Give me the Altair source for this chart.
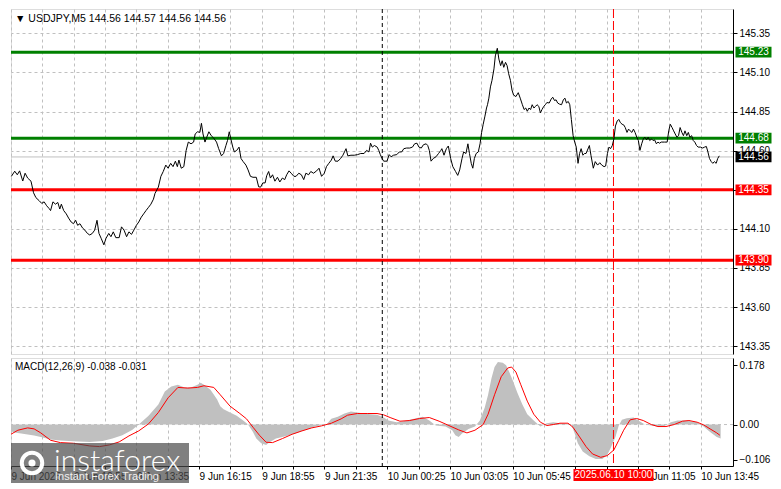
import altair as alt
import pandas as pd

# ---------------- data ----------------
# USDJPY M5 close line: bar index (5-minute bars from the left edge) and price
seg1_bar = [0.2, 1.9, 3.2, 4.4, 6, 7.2, 8.5, 10.2, 11.5, 12.7,
            14.4, 15.7, 16.9, 18.2, 19.4, 20.2, 21.4, 22.7, 23.9, 24.9,
            25.7, 26.9, 28.2, 29.4, 30.7, 31.9, 33, 34, 35.2, 36.5,
            37.7, 39, 40.2, 41.5, 42.7, 43.9, 44.9, 46, 47.4, 48.5,
            49.9, 51, 52.2, 53.5, 55.2, 56.4, 57.7, 59, 60.2, 61.5,
            62.7, 64, 65.2, 66.5, 67.7, 68.9, 70.2, 71.4, 72.7, 73.5]
seg1_price = [144.436, 144.469, 144.446, 144.471, 144.406, 144.456, 144.425, 144.405, 144.331, 144.300,
              144.280, 144.263, 144.273, 144.248, 144.231, 144.217, 144.273, 144.258, 144.269, 144.227,
              144.258, 144.217, 144.196, 144.169, 144.144, 144.133, 144.155, 144.123, 144.133, 144.106,
              144.092, 144.071, 144.061, 144.071, 144.092, 144.155, 144.071, 144.040, 143.998, 144.040,
              144.071, 144.050, 144.081, 144.044, 144.044, 144.113, 144.092, 144.050, 144.081, 144.065,
              144.092, 144.123, 144.144, 144.175, 144.196, 144.217, 144.238, 144.258, 144.290, 144.327]
seg2_bar = [75.2, 76.5, 77.7, 79, 80.2, 81.5, 82.7, 83.9, 84.9, 85.7,
            86.9, 88.2, 89.4, 90.5, 91.9, 93.2, 94, 95.2, 96.4, 97.2,
            98, 99, 99.9, 101, 102.2, 103.5, 104.9, 106, 107.4, 108.5,
            109.7, 110.5, 111.4, 112.2, 113.2, 114, 115.2, 116.4, 117.4, 118.5,
            119.9, 121, 122.2, 123.5, 125.2, 126.4, 127.4, 128.5, 129.7, 130.5,
            131.5, 132.4, 133.5, 134.7, 136, 137.2, 138.5, 139.7, 140.7, 141.9,
            143, 144.4, 145.5, 146.9, 148.2]
seg2_price = [144.367, 144.436, 144.467, 144.508, 144.488, 144.519, 144.498, 144.533, 144.498, 144.540,
              144.488, 144.498, 144.602, 144.655, 144.644, 144.655, 144.707, 144.721, 144.717, 144.775,
              144.707, 144.655, 144.686, 144.721, 144.696, 144.680, 144.655, 144.613, 144.567, 144.582,
              144.633, 144.665, 144.721, 144.675, 144.623, 144.592, 144.602, 144.623, 144.550, 144.530,
              144.508, 144.477, 144.436, 144.430, 144.430, 144.369, 144.367, 144.394, 144.394, 144.440,
              144.467, 144.425, 144.446, 144.405, 144.430, 144.400, 144.425, 144.415, 144.446, 144.471,
              144.456, 144.436, 144.436, 144.456, 144.446]
seg3_bar = [149.4, 150.5, 151.9, 153, 154.4, 156, 157.2, 158.5, 159.9, 161,
            162.2, 163.5, 164.4, 165.5, 166.9, 168.2, 169.4, 170.2, 171, 171.9,
            173.5, 175.2, 176.9, 178.5, 180.2, 181.5, 182.7, 183.5, 184.4, 185.5,
            186.9, 187.7, 188.5, 189.4, 190.2, 191.9, 193, 194, 195.2, 196.9,
            198.2, 199.4, 200.5, 201.9, 203.5, 204.9, 206, 207.2, 208.2, 209.4,
            210.5, 211.9, 212.7, 213.5, 214.4, 215.5, 216.9, 218.2, 219.4]
seg3_price = [144.415, 144.456, 144.446, 144.467, 144.456, 144.471, 144.488, 144.436, 144.456, 144.498,
              144.519, 144.540, 144.567, 144.533, 144.533, 144.550, 144.571, 144.592, 144.613, 144.567,
              144.571, 144.571, 144.575, 144.582, 144.582, 144.602, 144.592, 144.648, 144.623, 144.633,
              144.623, 144.602, 144.575, 144.550, 144.533, 144.533, 144.575, 144.561, 144.571, 144.575,
              144.592, 144.592, 144.613, 144.617, 144.617, 144.623, 144.644, 144.648, 144.623, 144.617,
              144.638, 144.644, 144.633, 144.602, 144.533, 144.550, 144.561, 144.582, 144.602]
seg4_bar = [219.9, 221, 222.2, 223.2, 224.4, 225.5, 226.9, 228, 229, 230.2,
            231, 232.2, 233.2, 234, 234.9, 235.7, 236.5, 237.4, 238.5, 239.4,
            240.2, 241, 241.9, 242.7, 243.2, 243.9, 244.7, 245.5, 246.5, 247.2,
            248.2, 249, 249.9, 250.7, 251.5, 252.4, 253.2, 254, 254.9, 255.7,
            256.5, 257.7, 258.9, 259.9, 261, 261.9, 262.7, 263.5, 264.4, 265.2,
            266, 266.9, 267.7, 268.5, 269.4, 270.2, 271, 271.9, 272.7, 273.5,
            274.7, 275.7, 276.5, 277.4, 278.2, 279, 279.9, 281, 281.9, 282.7,
            283.5, 284.4, 285.2, 286, 286.9, 287.7, 288.5, 289.4, 290.2, 291,
            291.9, 292.7]
seg4_price = [144.613, 144.571, 144.613, 144.630, 144.550, 144.498, 144.467, 144.442, 144.477, 144.550,
              144.592, 144.582, 144.644, 144.582, 144.519, 144.488, 144.550, 144.582, 144.592, 144.644,
              144.717, 144.769, 144.821, 144.873, 144.894, 144.936, 145.008, 145.050, 145.123, 145.206,
              145.255, 145.186, 145.144, 145.175, 145.133, 145.165, 145.144, 145.092, 145.050, 144.988,
              144.956, 144.946, 144.971, 144.936, 144.894, 144.863, 144.873, 144.852, 144.873, 144.863,
              144.894, 144.873, 144.883, 144.894, 144.883, 144.842, 144.863, 144.883, 144.894, 144.908,
              144.905, 144.930, 144.942, 144.921, 144.925, 144.905, 144.898, 144.894, 144.925, 144.936,
              144.905, 144.915, 144.894, 144.800, 144.696, 144.655, 144.623, 144.519, 144.582, 144.613,
              144.571, 144.582]
seg5_bar = [293.5, 295.2, 296, 297.2, 298.2, 299.4, 300.5, 301.5, 302.7, 303.5,
            304.4, 305.2, 306, 306.9, 307.7, 308.5, 309.4, 310.2, 311, 311.9,
            312.7, 313.5, 314.4, 315.2, 316, 316.9, 317.7, 318.5, 319.4, 320.2,
            321, 321.9, 322.7, 323.5, 324.4, 325.2, 326, 326.9, 327.7, 328.5,
            329.4, 330.2, 331, 331.9, 333.5, 334.9, 335.7, 336.5, 337.4, 338.2,
            339, 339.9, 340.7, 341.5, 342.4, 343.2, 344, 344.9, 345.7, 346.5,
            347.4, 348.2, 349, 349.9, 350.7, 351.9, 353, 354, 354.9, 355.7,
            356.5, 357.4, 358.2, 359, 359.9, 360.7, 361.5]
seg5_price = [144.582, 144.633, 144.571, 144.488, 144.530, 144.508, 144.523, 144.508, 144.498, 144.502,
              144.582, 144.623, 144.613, 144.633, 144.675, 144.758, 144.790, 144.800, 144.780, 144.769,
              144.765, 144.748, 144.717, 144.738, 144.727, 144.717, 144.738, 144.717, 144.686, 144.665,
              144.602, 144.644, 144.675, 144.686, 144.669, 144.686, 144.665, 144.675, 144.665, 144.669,
              144.644, 144.655, 144.648, 144.655, 144.655, 144.655, 144.727, 144.769, 144.748, 144.727,
              144.707, 144.686, 144.696, 144.748, 144.717, 144.696, 144.727, 144.696, 144.717, 144.686,
              144.696, 144.665, 144.655, 144.633, 144.623, 144.623, 144.617, 144.623, 144.627, 144.592,
              144.550, 144.530, 144.519, 144.530, 144.519, 144.550, 144.567]

# MACD histogram (main line) and signal line
hist_bar = [0, 1.8, 5.2, 8.5, 11.8, 15.2, 20.2, 25.2, 31.8, 40.2,
            46.8, 51.8, 56.8, 61.8, 65.2, 70.2, 75.2, 78.5, 81.8, 85.2,
            88.5, 91.8, 95.2, 96.8, 98.5, 101.8, 105.2, 106.8, 108.5, 111.8,
            115.2, 118.5, 121, 123.5, 125.2, 127.7, 130.2, 131.8, 135.2, 138.5,
            141.8, 145.2, 148.5, 151.8, 155.2, 158.5, 161, 163.5, 166.8, 170.2,
            173.5, 176.8, 180.2, 183.5, 186.8, 190.2, 192.7, 196.8, 200.2, 203.5,
            206.8, 210.2, 213.5, 216.8, 221.8, 225.2, 226.8, 228.5, 230.2, 233.5,
            236.8, 239.3, 241.8, 243.5, 245.2, 246.8, 248.5, 251, 252.7, 254.3,
            256, 258.5, 261, 263.5, 266.8, 270.2, 273.5, 276.8, 280.2, 283.5,
            286, 287.7, 289.3, 291.8, 295.2, 298.5, 301.8, 304.3, 306, 308.5,
            310.2, 311.8, 314.3, 317.7, 320.2, 323.5, 326.8, 330.2, 333.5, 336.8,
            340.2, 343.5, 346.8, 350.2, 353.5, 356.8, 360.2, 362.2]
hist_val = [-0.020, -0.024, -0.027, -0.030, -0.033, -0.037, -0.045, -0.048, -0.050, -0.052,
            -0.049, -0.042, -0.032, -0.016, 0, 0.026, 0.060, 0.099, 0.114, 0.119,
            0.111, 0.111, 0.119, 0.125, 0.119, 0.104, 0.075, 0.055, 0.046, 0.036,
            0.026, 0.012, 0, -0.022, -0.042, -0.056, -0.061, -0.054, -0.042, -0.037,
            -0.032, -0.027, -0.019, -0.013, -0.006, -0.002, 0, 0.017, 0.023, 0.033,
            0.039, 0.036, 0.033, 0.031, 0.029, 0.021, 0.012, 0.007, 0.010, 0.014,
            0.019, 0.023, 0.012, -0.003, -0.006, -0.017, -0.032, -0.037, -0.027, -0.013,
            -0.006, 0.012, 0.051, 0.089, 0.138, 0.172, 0.187, 0.185, 0.177, 0.157,
            0.133, 0.094, 0.060, 0.031, 0.012, -0.006, 0.004, 0.007, 0.004, 0.002,
            0, -0.027, -0.056, -0.081, -0.095, -0.103, -0.103, -0.091, -0.071, -0.037,
            -0.003, 0.014, 0.019, 0.021, 0.012, 0, -0.003, -0.006, -0.004, 0.007,
            0.012, 0.012, 0.010, 0.007, -0.006, -0.022, -0.037, -0.042]
sig_bar = [0, 3.5, 8.5, 11.8, 15.2, 20.2, 25.2, 31.8, 40.2, 45.2,
           50.2, 55.2, 60.2, 65.2, 70.2, 75.2, 80.2, 85.2, 90.2, 95.2,
           98.5, 103.5, 106.8, 111.8, 116.8, 120.2, 123.5, 126.8, 130.2, 133.5,
           138.5, 143.5, 148.5, 153.5, 158.5, 163.5, 168.5, 171.8, 176.8, 181.8,
           186.8, 190.2, 193.5, 198.5, 203.5, 208.5, 213.5, 218.5, 223.5, 228.5,
           232.7, 236.8, 241, 243.5, 246.8, 250.2, 253.5, 255.5, 257.7, 260.2,
           263.5, 266.8, 270.2, 273.5, 276.8, 280.2, 284.3, 286.8, 290.2, 293.5,
           296.8, 301, 304.3, 307.7, 310.2, 312.7, 316, 319.3, 322.7, 326.8,
           330.2, 334.3, 338.5, 342.7, 346, 350.2, 353.5, 356.8, 360.2, 361.8]
sig_val = [-0.029, -0.017, -0.010, -0.013, -0.025, -0.047, -0.054, -0.056, -0.064, -0.066,
           -0.061, -0.052, -0.034, -0.019, 0.002, 0.036, 0.080, 0.111, 0.109, 0.111,
           0.116, 0.111, 0.089, 0.055, 0.033, 0.017, -0.008, -0.032, -0.053, -0.054,
           -0.042, -0.029, -0.019, -0.010, -0.004, 0.004, 0.017, 0.028, 0.033, 0.033,
           0.033, 0.029, 0.021, 0.010, 0.012, 0.018, 0.021, 0.010, -0.003, -0.016,
           -0.025, -0.017, 0, 0.031, 0.089, 0.143, 0.169, 0.172, 0.157, 0.119,
           0.070, 0.031, 0.007, -0.003, 0, 0.004, 0.004, -0.008, -0.037, -0.066,
           -0.088, -0.098, -0.093, -0.076, -0.047, -0.017, 0.014, 0.018, 0.012, 0,
           -0.006, -0.006, 0, 0.010, 0.012, 0.007, -0.001, -0.013, -0.025, -0.032]

level_prices = [145.23, 144.68, 144.35, 143.90]
level_colors = ["#008000", "#008000", "#ff0000", "#ff0000"]
current_price = 144.56
box_prices = [145.23, 144.68, 144.56, 144.35, 143.90]
box_labels = ["145.23", "144.68", "144.56", "144.35", "143.90"]
box_colors = ["#008000", "#008000", "#000000", "#ff0000", "#ff0000"]
price_ticks = [143.35, 143.60, 143.85, 144.10, 144.35, 144.60, 144.85, 145.10, 145.35]
price_domain = [143.30, 145.506]
macd_ticks = [-0.106, 0.0, 0.178]
macd_domain = [-0.124, 0.199]
bar_domain = [0, 368.5]
grid_bars = list(range(0, 368, 16))
time_label_bars = [0, 32, 64, 96, 128, 160, 192, 224, 256, 320, 352]
time_labels = ["9 Jun 2025", "9 Jun 10:55", "9 Jun 13:35", "9 Jun 16:15", "9 Jun 18:55",
               "9 Jun 21:35", "10 Jun 00:25", "10 Jun 03:05", "10 Jun 05:45",
               "10 Jun 11:05", "10 Jun 13:45"]
separator_bar = 189.5
cursor_bar = 307.5
cursor_label = "2025.06.10 10:00"
header_text = "\u25bc USDJPY,M5  144.56 144.57 144.56 144.56"
macd_text = "MACD(12,26,9) -0.038 -0.031"

assert len(seg1_bar) == len(seg1_price) and len(seg2_bar) == len(seg2_price)
assert len(seg3_bar) == len(seg3_price) and len(seg4_bar) == len(seg4_price)
assert len(seg5_bar) == len(seg5_price)
assert len(hist_bar) == len(hist_val) and len(sig_bar) == len(sig_val)

close_df = pd.DataFrame({
    "bar": seg1_bar + seg2_bar + seg3_bar + seg4_bar + seg5_bar,
    "price": seg1_price + seg2_price + seg3_price + seg4_price + seg5_price,
})
hist_df = pd.DataFrame({"bar": hist_bar, "value": hist_val})
sig_df = pd.DataFrame({"bar": sig_bar, "value": sig_val})
levels_df = pd.DataFrame({"price": level_prices, "color": level_colors})
boxes_df = pd.DataFrame({"price": box_prices, "label": box_labels, "color": box_colors})

# ---------------- layout ----------------
W, H1, H2 = 722, 345, 108
FONT = "Liberation Sans"
GRID = "#c0c0c0"
BOX_SHAPE = "M-1,-0.3L1,-0.3L1,0.3L-1,0.3Z"
TIME_SHAPE = "M-1,-0.15L1,-0.15L1,0.15L-1,0.15Z"

xs = alt.Scale(domain=bar_domain, nice=False, zero=False)
ys = alt.Scale(domain=price_domain, nice=False, zero=False)
ms = alt.Scale(domain=macd_domain, nice=False, zero=False)

x_main_axis = alt.Axis(values=grid_bars, grid=True, gridDash=[3, 3], gridColor=GRID,
                       labels=False, ticks=False, domain=False, title=None)
y_main_axis = alt.Axis(orient="right", values=price_ticks, format=".2f", title=None,
                       grid=True, gridDash=[3, 3], gridColor=GRID, tickSize=4,
                       tickColor="black", domainColor="black", labelFont=FONT,
                       labelFontSize=10, labelColor="black", labelPadding=2)
X_MAIN = alt.X("bar:Q", scale=xs, axis=x_main_axis)
Y_MAIN = alt.Y("price:Q", scale=ys, axis=y_main_axis)

close_line = alt.Chart(close_df).mark_line(color="black", strokeWidth=1).encode(x=X_MAIN, y=Y_MAIN)
current_rule = alt.Chart(pd.DataFrame({"price": [current_price]})).mark_rule(
    color="#c0c0c0", strokeWidth=1).encode(y=Y_MAIN)
level_rules = alt.Chart(levels_df).mark_rule(strokeWidth=3).encode(
    y=Y_MAIN, color=alt.Color("color:N", scale=None))
sep_rule = alt.Chart(pd.DataFrame({"bar": [separator_bar]})).mark_rule(
    color="black", strokeDash=[4, 3], strokeWidth=1).encode(x=X_MAIN)
cur_rule = alt.Chart(pd.DataFrame({"bar": [cursor_bar]})).mark_rule(
    color="#ff0000", strokeDash=[9, 3], strokeWidth=1).encode(x=X_MAIN)
box_marks = alt.Chart(boxes_df).mark_point(shape=BOX_SHAPE, filled=True, size=1296,
                                           opacity=1, strokeWidth=0).encode(
    x=alt.value(W + 20.5), y=Y_MAIN, color=alt.Color("color:N", scale=None))
box_text = alt.Chart(boxes_df).mark_text(color="white", font=FONT, fontSize=10,
                                         align="center", baseline="middle").encode(
    x=alt.value(W + 20.5), y=Y_MAIN, text="label:N")
header = alt.Chart(pd.DataFrame({"t": [header_text]})).mark_text(
    align="left", baseline="middle", font=FONT, fontSize=10.5, color="black").encode(
    x=alt.value(4), y=alt.value(10), text="t:N")

main = alt.layer(current_rule, level_rules, sep_rule, cur_rule, close_line,
                 box_marks, box_text, header).properties(width=W, height=H1)

# ---------------- MACD panel ----------------
label_expr = " : ".join(f"datum.value == {b} ? '{t}'" for b, t in zip(time_label_bars, time_labels)) + " : ''"
x_macd_axis = alt.Axis(values=grid_bars, grid=True, gridDash=[3, 3], gridColor=GRID,
                       labelExpr=label_expr, labelAlign="left", labelBaseline="top",
                       labelFont=FONT, labelFontSize=10, labelColor="black", labelPadding=2,
                       labelFlush=False, labelOverlap=False, tickSize=3, tickColor="black",
                       domainColor="black", title=None)
y_macd_axis = alt.Axis(orient="right", values=macd_ticks, title=None, grid=False,
                       labelExpr="datum.value == 0 ? '0.00' : format(datum.value, '.3f')",
                       tickSize=4, tickColor="black", domainColor="black", labelFont=FONT,
                       labelFontSize=10, labelColor="black", labelPadding=2)
X_M = alt.X("bar:Q", scale=xs, axis=x_macd_axis)
Y_M = alt.Y("value:Q", scale=ms, axis=y_macd_axis)

hist_area = alt.Chart(hist_df).mark_area(color="#c0c0c0", opacity=1).encode(
    x=X_M, y=Y_M, y2=alt.datum(0))
zero_rule = alt.Chart(pd.DataFrame({"value": [0.0]})).mark_rule(
    color=GRID, strokeDash=[3, 3]).encode(y=Y_M)
sig_line = alt.Chart(sig_df).mark_line(color="#ff0000", strokeWidth=1).encode(x=X_M, y=Y_M)
sep_rule2 = alt.Chart(pd.DataFrame({"bar": [separator_bar]})).mark_rule(
    color="black", strokeDash=[4, 3], strokeWidth=1).encode(x=X_M)
cur_rule2 = alt.Chart(pd.DataFrame({"bar": [cursor_bar]})).mark_rule(
    color="#ff0000", strokeDash=[9, 3], strokeWidth=1).encode(x=X_M)
macd_header = alt.Chart(pd.DataFrame({"t": [macd_text]})).mark_text(
    align="left", baseline="middle", font=FONT, fontSize=10, color="black").encode(
    x=alt.value(4), y=alt.value(9), text="t:N")
cursor_df = pd.DataFrame({"bar": [cursor_bar], "label": [cursor_label]})
cursor_box = alt.Chart(cursor_df).mark_point(shape=TIME_SHAPE, filled=True, size=6400,
                                             opacity=1, strokeWidth=0, color="#ff0000").encode(
    x=X_M, y=alt.value(H2 + 9))
cursor_text = alt.Chart(cursor_df).mark_text(color="white", font=FONT, fontSize=10,
                                             align="center", baseline="middle").encode(
    x=X_M, y=alt.value(H2 + 9), text="label:N")

# watermark
one = pd.DataFrame({"a": [0]})
wm_rect = alt.Chart(one).mark_rect(color="#4a4a4a", opacity=0.7).encode(
    x=alt.value(0), x2=alt.value(178), y=alt.value(85), y2=alt.value(125))
wm_ring = alt.Chart(one).mark_point(shape="circle", filled=False, color="white",
                                    strokeWidth=4, size=420, opacity=1).encode(
    x=alt.value(21), y=alt.value(105))
wm_dot = alt.Chart(one).mark_point(shape="circle", filled=True, color="white",
                                   size=50, opacity=1).encode(
    x=alt.value(21), y=alt.value(105))
wm_text = alt.Chart(pd.DataFrame({"t": ["instaforex"]})).mark_text(
    align="left", baseline="alphabetic", font="Lato", fontWeight=300, fontSize=30,
    color="white").encode(x=alt.value(43), y=alt.value(113), text="t:N")
wm_sub = alt.Chart(pd.DataFrame({"t": ["Instant Forex Trading"]})).mark_text(
    align="left", baseline="middle", font=FONT, fontSize=11, color="#f0f0f0").encode(
    x=alt.value(44), y=alt.value(119), text="t:N")

macd = alt.layer(hist_area, zero_rule, sig_line, sep_rule2, cur_rule2, macd_header,
                 cursor_box, cursor_text, wm_rect, wm_ring, wm_dot, wm_text, wm_sub
                 ).properties(width=W, height=H2)

chart = alt.vconcat(main, macd, spacing=2).properties(padding=0).configure_view(
    stroke="black", strokeWidth=1).configure(background="white")

chart.save("out.html", embed_options={"renderer": "svg", "actions": False})
